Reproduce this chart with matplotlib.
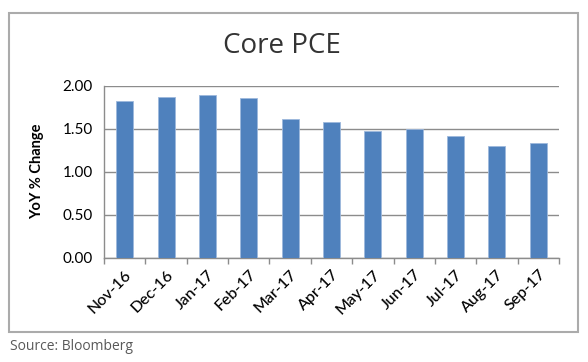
import matplotlib.pyplot as plt
from matplotlib.patches import Rectangle
import numpy as np

months = ['Nov-16', 'Dec-16', 'Jan-17', 'Feb-17', 'Mar-17', 'Apr-17',
          'May-17', 'Jun-17', 'Jul-17', 'Aug-17', 'Sep-17']
core_pce = [1.82, 1.87, 1.89, 1.86, 1.61, 1.58, 1.47, 1.50, 1.42, 1.30, 1.33]

fig = plt.figure(figsize=(5.88, 3.62), dpi=100)
ax = fig.add_axes([0.1769, 0.2881, 0.7738, 0.4752])

x = np.arange(len(months))
ax.bar(x, core_pce, width=0.41, color='#4F81BD', edgecolor='#9DB8DC',
       linewidth=0.6, zorder=3)

ax.set_xlim(-0.5, len(months) - 0.5)
ax.set_ylim(0, 2.0)
ax.set_yticks([0, 0.5, 1.0, 1.5, 2.0])
ax.set_yticklabels(['%.2f' % v for v in [0, 0.5, 1.0, 1.5, 2.0]],
                   fontsize=11, family='Lato')
ax.yaxis.grid(True, color='#8C8C8C', linewidth=1.0, zorder=0)
ax.tick_params(axis='y', length=0, pad=8)

# category boundary ticks on x
ax.set_xticks(np.arange(-0.5, len(months), 1.0))
ax.set_xticklabels([])
ax.tick_params(axis='x', which='major', length=4, color='#8C8C8C', width=1.0)
ax.set_xticks(x, minor=True)
ax.set_xticklabels(months, minor=True, rotation=45, ha='right',
                   rotation_mode='anchor', fontsize=11.5, family='Lato',
                   fontweight='medium')
ax.tick_params(axis='x', which='minor', length=0, pad=7)

for s in ['top', 'right']:
    ax.spines[s].set_visible(False)
for s in ['left', 'bottom']:
    ax.spines[s].set_color('#8C8C8C')
    ax.spines[s].set_linewidth(1.0)

ax.set_ylabel('YoY % Change', fontsize=10.5, fontweight='bold', family='Lato',
              labelpad=13)

fig.text(282 / 588, 1 - 46 / 362, 'Core PCE', fontsize=20, family='Open Sans',
         color='#333333', ha='center', va='center')

# outer border box
fig.patches.append(Rectangle((9 / 588, 1 - 332 / 362), 569 / 588, 319 / 362,
                             transform=fig.transFigure, fill=False,
                             edgecolor='#ABABAB', linewidth=1.5))

fig.text(10 / 588, 1 - 347 / 362, 'Source: Bloomberg', fontsize=10,
         family='Open Sans', color='#595959', ha='left', va='center')

fig.savefig('out.png', dpi=100)
